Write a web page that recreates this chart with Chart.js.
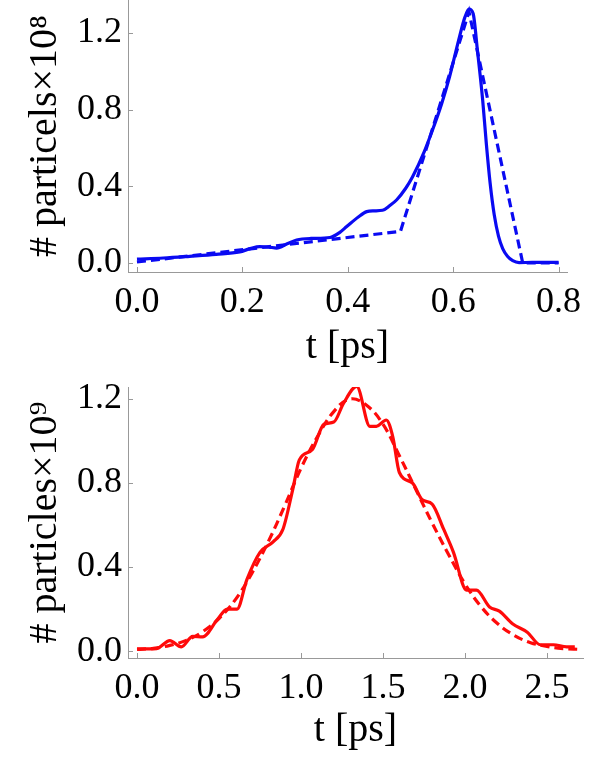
<!DOCTYPE html>
<html>
<head>
<meta charset="utf-8">
<script src="https://cdn.jsdelivr.net/npm/chart.js@4"></script>
<style>
  body { margin: 0; background: #fff; }
  .box { position: absolute; left: 0; width: 598px; }
  #top { top: 0; height: 380px; }
  #bottom { top: 380px; height: 383px; }
</style>
</head>
<body>
<div class="box" id="top"><canvas></canvas></div>
<div class="box" id="bottom"><canvas></canvas></div>
<script>
// top panel: electrons, 10^8 scale
const topTicksX = [0, 0.2, 0.4, 0.6, 0.8];
const topTicksY = [0, 0.4, 0.8, 1.2];
const topSim = [
  [0, 0.02], [0.05, 0.026], [0.1, 0.035], [0.15, 0.045], [0.195, 0.058], [0.215, 0.075],
  [0.233, 0.085], [0.25, 0.083], [0.265, 0.078], [0.285, 0.1], [0.303, 0.12], [0.33, 0.128],
  [0.366, 0.133], [0.385, 0.16], [0.398, 0.19], [0.42, 0.24], [0.436, 0.268], [0.45, 0.272],
  [0.466, 0.275], [0.48, 0.3], [0.493, 0.33], [0.51, 0.39], [0.523, 0.45], [0.545, 0.58],
  [0.561, 0.695], [0.578, 0.83], [0.593, 0.97], [0.612, 1.18], [0.622, 1.28], [0.63, 1.325],
  [0.638, 1.3], [0.646, 1.11], [0.656, 0.85], [0.663, 0.62], [0.67, 0.42], [0.678, 0.25],
  [0.686, 0.14], [0.694, 0.075], [0.703, 0.035], [0.713, 0.012], [0.725, 0.002], [0.75, 0.003],
  [0.8, 0.003]
];
const topModel = [[0, 0.005], [0.5, 0.165], [0.63, 1.31], [0.732, 0], [0.8, 0]];

// bottom panel: 10^9 scale
const botTicksX = [0, 0.5, 1.0, 1.5, 2.0, 2.5];
const botTicksY = [0, 0.4, 0.8, 1.2];
const botSim = [
  [0, 0.01], [0.12, 0.012], [0.2, 0.05], [0.27, 0.02], [0.34, 0.07], [0.4, 0.068],
  [0.49, 0.15], [0.55, 0.2], [0.61, 0.2], [0.67, 0.34], [0.75, 0.47], [0.83, 0.52],
  [0.89, 0.58], [0.95, 0.77], [0.99, 0.91], [1.07, 0.96], [1.14, 1.08], [1.2, 1.09],
  [1.26, 1.18], [1.34, 1.26], [1.42, 1.07], [1.46, 1.07], [1.52, 1.10], [1.56, 1.02],
  [1.6, 0.85], [1.68, 0.80], [1.74, 0.72], [1.8, 0.70], [1.87, 0.58], [1.93, 0.47],
  [2.01, 0.29], [2.07, 0.29], [2.15, 0.21], [2.21, 0.19], [2.29, 0.13], [2.38, 0.09],
  [2.46, 0.03], [2.54, 0.03], [2.62, 0.02], [2.67, 0.02]
];
const botModel = [
  [0, 0.008], [0.1, 0.013], [0.2, 0.027], [0.3, 0.051], [0.4, 0.092], [0.5, 0.155],
  [0.6, 0.245], [0.7, 0.37], [0.8, 0.52], [0.9, 0.69], [1.0, 0.87], [1.1, 1.02],
  [1.2, 1.14], [1.3, 1.2], [1.4, 1.17], [1.5, 1.08], [1.6, 0.93], [1.7, 0.77],
  [1.8, 0.61], [1.9, 0.46], [2.0, 0.32], [2.1, 0.21], [2.2, 0.13], [2.3, 0.075],
  [2.4, 0.04], [2.5, 0.022], [2.6, 0.012], [2.7, 0.008]
];

const SERIF = "'Liberation Serif', 'Times New Roman', serif";

// Mathematica style: little ticks pointing into the plot
const innerTicks = {
  id: 'innerTicks',
  afterDraw(chart) {
    const ctx = chart.ctx;
    const xs = chart.scales.x, ys = chart.scales.y;
    ctx.save();
    ctx.strokeStyle = '#999';
    ctx.lineWidth = 1;
    ctx.beginPath();
    xs.ticks.forEach(t => {
      const px = Math.round(xs.getPixelForValue(t.value)) + 0.5;
      ctx.moveTo(px, xs.top);
      ctx.lineTo(px, xs.top - 5);
    });
    ys.ticks.forEach(t => {
      const py = Math.round(ys.getPixelForValue(t.value)) + 0.5;
      ctx.moveTo(ys.right, py);
      ctx.lineTo(ys.right + 5, py);
    });
    ctx.stroke();
    ctx.restore();
  }
};

function makeChart(el, cfg) {
  const toXY = arr => arr.map(p => ({ x: p[0], y: p[1] }));
  return new Chart(el, {
    type: 'line',
    data: {
      datasets: [{
        data: toXY(cfg.sim),
        borderColor: cfg.color,
        borderWidth: 3.2,
        pointRadius: 0,
        cubicInterpolationMode: 'monotone',
        fill: false,
      }, {
        data: toXY(cfg.model),
        borderColor: cfg.color,
        borderWidth: 3.2,
        borderDash: [9, 5],
        pointRadius: 0,
        tension: cfg.modelTension,
        fill: false,
      }]
    },
    plugins: [innerTicks],
    options: {
      animation: false,
      responsive: true,
      maintainAspectRatio: false,
      layout: { padding: cfg.padding },
      plugins: { legend: { display: false }, tooltip: { enabled: false } },
      scales: {
        x: {
          type: 'linear',
          min: cfg.xMin,
          max: cfg.xMax,
          afterBuildTicks: s => { s.ticks = cfg.ticksX.map(v => ({ value: v })); },
          afterFit: s => { s.height = cfg.xHeight; s.paddingLeft = 0; s.paddingRight = 0; },
          grid: { display: false, drawTicks: false },
          border: { display: true, color: '#999', width: 1 },
          ticks: {
            color: '#000',
            padding: 9,
            maxRotation: 0,
            font: { family: SERIF, size: 36 },
            callback: v => v.toFixed(1),
          },
          title: {
            display: true,
            text: 't [ps]',
            color: '#000',
            font: { family: SERIF, size: 40, lineHeight: 1 },
            padding: { top: 0, bottom: 13 },
          }
        },
        y: {
          type: 'linear',
          min: cfg.yMin,
          max: cfg.yMax,
          afterBuildTicks: s => { s.ticks = cfg.ticksY.map(v => ({ value: v })); },
          afterFit: s => { s.width = 128; s.paddingTop = 0; s.paddingBottom = 0; },
          grid: { display: false, drawTicks: false },
          border: { display: true, color: '#999', width: 1 },
          ticks: {
            color: '#000',
            padding: 6,
            font: { family: SERIF, size: 36 },
            callback: v => v.toFixed(1),
          },
          title: {
            display: true,
            text: cfg.yTitle,
            color: '#000',
            font: { family: SERIF, size: 40, lineHeight: 1 },
            padding: { top: 25, bottom: 0 },
          }
        }
      }
    }
  });
}

makeChart(document.querySelector('#top canvas'), {
  sim: topSim, model: topModel, color: '#0a0af2', modelTension: 0,
  ticksX: topTicksX, ticksY: topTicksY,
  xMin: -0.017, xMax: 0.816, yMin: -0.047, yMax: 1.372,
  xHeight: 108,
  padding: { top: 0, right: 31, bottom: 0, left: 0 },
  yTitle: '# particels\u00d710\u2078',
});

makeChart(document.querySelector('#bottom canvas'), {
  sim: botSim, model: botModel, color: '#ff0a0a', modelTension: 0.4,
  ticksX: botTicksX, ticksY: botTicksY,
  xMin: -0.055, xMax: 2.72, yMin: -0.033, yMax: 1.257,
  xHeight: 105,
  padding: { top: 7, right: 15, bottom: 0, left: 0 },
  yTitle: '# particles\u00d710\u2079',
});
</script>
</body>
</html>
